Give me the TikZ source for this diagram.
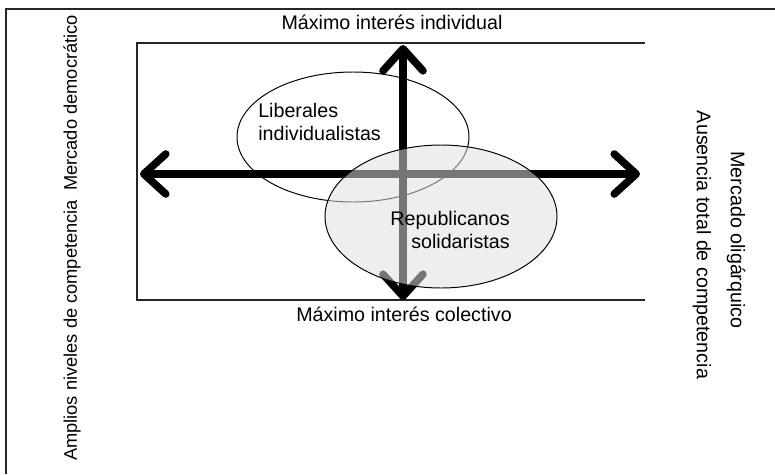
\documentclass[tikz,border=0pt]{standalone}
\usepackage{fontspec}
\setmainfont{Liberation Sans}
\usetikzlibrary{arrows.meta,positioning}

\tikzset{
  frameline/.style={line width=1.4pt, draw=black!85},
  axisarrow/.style={line width=5.4pt,
    {Straight Barb[round,length=5.5mm,width=10mm]}-{Straight Barb[round,length=5.5mm,width=10mm]}},
  lbl/.style={font=\fontsize{14}{17}\selectfont, inner sep=0pt}
}

\begin{document}
\begin{tikzpicture}
          \useasboundingbox (0, 0) rectangle (19.375, 11.85);

          % outer frame
          \draw[frameline] (0.15, 0) -- (0.15, 11.625) -- (19.375, 11.625);

          % inner frame, open to the right
          \draw[frameline] (16.125, 10.775) -- (3.425, 10.775) -- (3.425, 4.35) -- (16.125, 4.35);

          \coordinate (west) at (3.5, 7.5);
          \coordinate (east) at (16.0, 7.5);
          \coordinate (north) at (10.075, 10.725);
          \coordinate (south) at (10.075, 4.35);

          \draw[line width=0.7pt] (8.825, 8.425) ellipse (2.9 and 1.625);

          \draw[axisarrow] (west) -- (east);
          \draw[axisarrow] (south) -- (north);

          \fill[black!12.5, opacity=0.53] (11.025, 6.4375) ellipse (2.9 and 1.7875);
          \draw[line width=0.7pt] (11.025, 6.4375) ellipse (2.9 and 1.7875);

          \node[lbl, align=left, anchor=west] (lib) at (6.45, 8.8) {Liberales\\individualistas};
          \node[lbl, align=right, anchor=east] (rep) at (12.75, 6.1) {Republicanos\\solidaristas};

          \node[lbl] (ind) at (9.8, 11.3) {Máximo interés individual};
          \node[lbl] (col) at (10.1, 4.0) {Máximo interés colectivo};

          \node[lbl, font=\fontsize{13}{16}\selectfont, rotate=90] (dem) at (1.8, 5.9) {Amplios niveles de competencia\hspace{0.5em}Mercado democrático};
          \node[lbl, rotate=-90] (oli) at (18.4, 5.85) {Mercado oligárquico};
          \node[lbl, rotate=-90] (aus) at (17.55, 5.725) {Ausencia total de competencia};
        \end{tikzpicture}
\end{document}
